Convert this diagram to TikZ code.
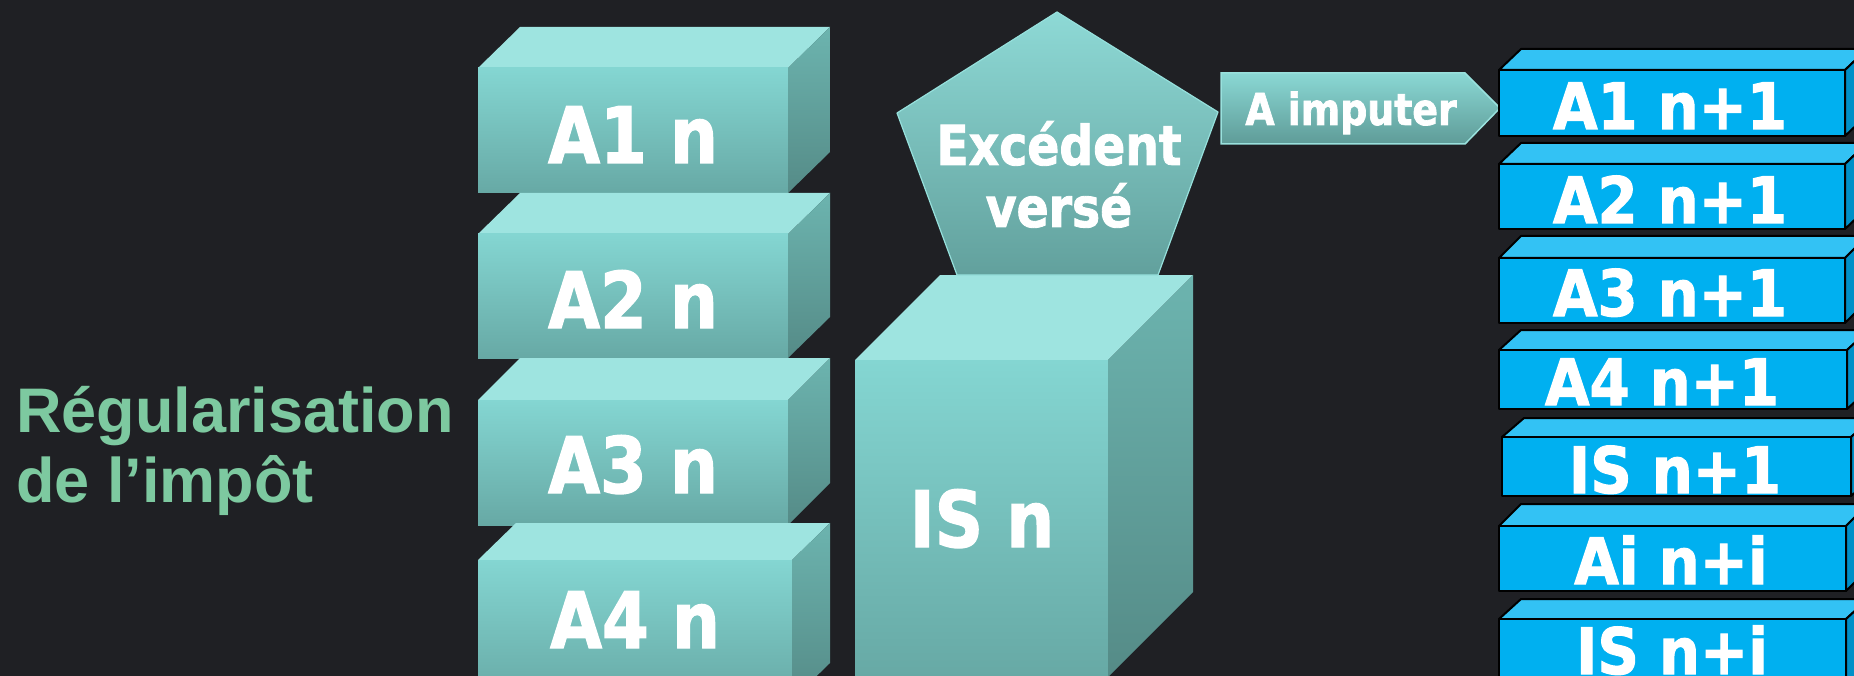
\documentclass[tikz,border=0pt]{standalone}
\usepackage{fontspec}
\newfontfamily\boxfont{DejaVu Sans}[FakeStretch=0.86, BoldFeatures={FakeBold=1.6}]
\newfontfamily\blockfont{DejaVu Sans}[FakeStretch=0.9, BoldFeatures={FakeBold=1.6}]
\newfontfamily\titlefont{Liberation Sans}

\definecolor{bgdark}{HTML}{1F2024}
\definecolor{tealtop}{HTML}{9EE4E0}
\definecolor{tealfronthi}{HTML}{84D6D2}
\definecolor{tealfrontlo}{HTML}{67A9A5}
\definecolor{tealsidehi}{HTML}{6CB4AF}
\definecolor{tealsidelo}{HTML}{558B87}
\definecolor{bluefront}{HTML}{00B0F0}
\definecolor{bluetop}{HTML}{33C2F4}
\definecolor{blueside}{HTML}{0090C8}
\definecolor{titlegreen}{HTML}{7DC9A0}

\tikzset{
  topface/.style={fill=tealtop},
  frontface/.style={top color=tealfronthi, bottom color=tealfrontlo},
  sideface/.style={top color=tealsidehi, bottom color=tealsidelo},
  bluefaceF/.style={fill=bluefront, draw=black, line width=2pt, line join=round},
  bluefaceT/.style={fill=bluetop, draw=black, line width=2pt, line join=round},
  bluefaceS/.style={fill=blueside, draw=black, line width=2pt, line join=round},
  lbl/.style={text=white, inner sep=0pt, anchor=base},
  bigteal/.style={lbl, font={\boxfont\bfseries\fontsize{78}{80}\selectfont}},
  bluelbl/.style={lbl, font={\blockfont\bfseries\fontsize{64}{66}\selectfont}},
}

% teal block: left, front top, right, bottom, depth x, depth y
\newcommand\tealblock[6]{%
  \fill[topface] (#1,#2) -- (#1+#5,#2-#6) -- (#3+#5,#2-#6) -- (#3,#2) -- cycle;
  \shade[frontface] (#1,#2) rectangle (#3,#4);
  \shade[sideface] (#3,#2) -- (#3+#5,#2-#6) -- (#3+#5,#4-#6) -- (#3,#4) -- cycle;
}
% blue slab: left, front top, right, bottom, depth x, depth y
\newcommand\blueslab[6]{%
  \path[bluefaceT] (#1,#2) -- (#1+#5,#2-#6) -- (#3+#5,#2-#6) -- (#3,#2) -- cycle;
  \path[bluefaceS] (#3,#2) -- (#3+#5,#2-#6) -- (#3+#5,#4-#6) -- (#3,#4) -- cycle;
  \path[bluefaceF] (#1,#2) rectangle (#3,#4);
}

\begin{document}
\begin{tikzpicture}[x=1pt, y=-1pt]
\useasboundingbox (0,0) rectangle (1854,676);
\fill[bgdark] (0,0) rectangle (1854,676);
\clip (0,0) rectangle (1854,676);

% title
\node[inner sep=0pt, anchor=base west, text=titlegreen,
      font={\titlefont\bfseries\fontsize{63}{70}\selectfont}] (title1) at (16,432) {Régularisation};
\node[inner sep=0pt, anchor=base west, text=titlegreen,
      font={\titlefont\bfseries\fontsize{63}{70}\selectfont}] (title2) at (16,502) {de l’impôt};

% stack of year-n blocks
\tealblock{478}{68}{788}{193}{42}{41}
\tealblock{478}{234}{788}{358}{42}{41}
\tealblock{478}{400}{788}{525}{42}{42}
\tealblock{478}{560}{792}{700}{38}{37}
\node[bigteal] (a1n) at (633,163) {A1 n};
\node[bigteal] (a2n) at (633,328) {A2 n};
\node[bigteal] (a3n) at (633,493) {A3 n};
\node[bigteal] (a4n) at (635,648) {A4 n};

% IS cube
\tealblock{855}{360}{1108}{677}{85}{85}
\node[bigteal] (isn) at (982,547) {IS n};

% pentagon on top of the cube
\shade[top color=tealfronthi!92!white, bottom color=tealfrontlo!95!black, draw=tealtop!70!tealfronthi, line width=1.2pt, line join=round]
  (1057,12) -- (1218,112) -- (1158,275) -- (957,275) -- (897,113) -- cycle;
\node[lbl, font={\boxfont\bfseries\fontsize{55}{62}\selectfont}] (exc) at (1059,165) {Excédent};
\node[lbl, font={\boxfont\bfseries\fontsize{55}{62}\selectfont}] (verse) at (1059,227) {versé};

% arrow label
\shade[top color=tealfronthi!95!white, bottom color=tealfrontlo!92!black, draw=tealtop!80!tealfronthi, line width=1.5pt, line join=miter]
  (1221,73) -- (1465,73) -- (1500,108) -- (1465,144) -- (1221,144) -- cycle;
\node[lbl, font={\boxfont\bfseries\fontsize{44}{46}\selectfont}] (imp) at (1351,125) {A imputer};

% year n+1 blocks
\blueslab{1499}{70}{1845}{136}{22}{21}
\blueslab{1499}{164}{1845}{229}{22}{21}
\blueslab{1499}{258}{1845}{323}{22}{22}
\blueslab{1499}{350}{1847}{409}{22}{20}
\blueslab{1502}{437}{1851}{496}{22}{19}
\blueslab{1499}{526}{1846}{591}{22}{22}
\blueslab{1499}{619}{1846}{720}{22}{20}
\node[bluelbl] (b1) at (1670,129) {A1 n+1};
\node[bluelbl] (b2) at (1670,223) {A2 n+1};
\node[bluelbl] (b3) at (1670,316) {A3 n+1};
\node[bluelbl] (b4) at (1662,405) {A4 n+1};
\node[bluelbl] (b5) at (1675,493) {IS n+1};
\node[bluelbl] (b6) at (1671,584) {Ai n+i};
\node[bluelbl] (b7) at (1672,674) {IS n+i};
\end{tikzpicture}
\end{document}
